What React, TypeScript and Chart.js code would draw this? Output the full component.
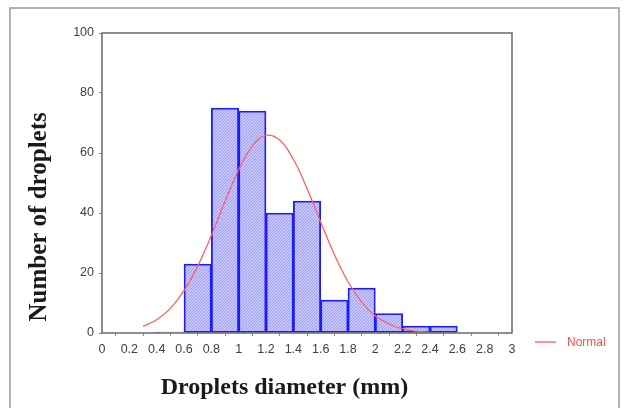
import React, { useEffect, useRef } from "react";
import { Chart, registerables } from "chart.js";

Chart.register(...registerables);

// Histogram bins (centres, mm) and counts
const binCenters = [0.5, 0.7, 0.9, 1.1, 1.3, 1.5, 1.7, 1.9, 2.1, 2.3, 2.5];
const binCounts = [0.3, 23, 75, 74, 40, 44, 11, 15, 6.5, 2.3, 2.3];

// Fitted "Normal" curve
const curveX = [0.3, 0.4, 0.5, 0.6, 0.7, 0.8, 0.9, 1.0, 1.1, 1.2, 1.3, 1.4, 1.5, 1.6, 1.7, 1.8, 1.9, 2.0, 2.1, 2.2, 2.3, 2.4];
const curveY = [2.2, 4.4, 8.2, 14.1, 22.3, 32.5, 43.8, 54.4, 62.3, 65.9, 64.3, 57.9, 48.2, 37.0, 26.2, 17.1, 10.3, 5.7, 3.0, 1.4, 0.6, 0.25];

const xTickLabels = ["0", "0.2", "0.4", "0.6", "0.8", "1", "1.2", "1.4", "1.6", "1.8", "2", "2.2", "2.4", "2.6", "2.8", "3"];
const yTickLabels = ["0", "20", "40", "60", "80", "100"];

const xTitle = "Droplets diameter (mm)";
const yTitle = "Number of droplets";
const legendLabel = "Normal";

function makeHatch(): CanvasPattern | string {
  const c = document.createElement("canvas");
  const s = 3;
  c.width = s;
  c.height = s;
  const g = c.getContext("2d");
  if (!g) return "#c0c0ff";
  g.fillStyle = "#c8c8ff";
  g.fillRect(0, 0, s, s);
  // pixel-exact diagonal "/" hatch
  g.fillStyle = "#9a9aff";
  for (let i = 0; i < s; i++) {
    g.fillRect(i, s - 1 - i, 1, 1);
  }
  const p = g.createPattern(c, "repeat");
  return p || "#c0c0ff";
}

const framePlugin = {
  id: "framePlugin",
  beforeDraw(chart: any) {
    const ctx = chart.ctx;
    ctx.save();
    ctx.fillStyle = "#ffffff";
    ctx.fillRect(0, 0, chart.width, chart.height);
    ctx.strokeStyle = "#9a9a9a";
    ctx.lineWidth = 1.5;
    ctx.strokeRect(10, 8, chart.width - 16, chart.height + 20);
    ctx.restore();
  },
  afterDraw(chart: any) {
    const ctx = chart.ctx;
    const a = chart.chartArea;
    ctx.save();
    ctx.strokeStyle = "#6a6a6a";
    ctx.lineWidth = 1.5;
    ctx.strokeRect(a.left, a.top, a.right - a.left, a.bottom - a.top);

    // axis titles
    ctx.fillStyle = "#1a1a1a";
    ctx.font = "bold 24px 'Liberation Serif', 'Times New Roman', serif";
    ctx.textAlign = "center";
    ctx.textBaseline = "middle";
    ctx.fillText(xTitle, a.left + (a.right - a.left) * 0.445, a.bottom + 55);
    ctx.save();
    ctx.font = "bold 25px 'Liberation Serif', 'Times New Roman', serif";
    ctx.translate(a.left - 62, a.top + (a.bottom - a.top) * 0.613);
    ctx.rotate(-Math.PI / 2);
    ctx.fillText(yTitle, 0, 0);
    ctx.restore();

    // legend
    const ly = a.bottom + 9;
    const lx = a.right + 23;
    ctx.strokeStyle = "#ff5a5a";
    ctx.lineWidth = 1.3;
    ctx.beginPath();
    ctx.moveTo(lx, ly);
    ctx.lineTo(lx + 21, ly);
    ctx.stroke();
    ctx.fillStyle = "#ff4a4a";
    ctx.font = "12px 'Liberation Sans', Arial, sans-serif";
    ctx.textAlign = "left";
    ctx.fillText(legendLabel, lx + 32, ly + 1);
    ctx.restore();
  },
};

export default function App() {
  const ref = useRef<HTMLCanvasElement | null>(null);

  useEffect(() => {
    if (!ref.current) return;
    const hatch = makeHatch();
    const chart = new Chart(ref.current, {
      type: "bar",
      data: {
        datasets: [
          {
            type: "line",
            label: legendLabel,
            data: curveX.map((x, i) => ({ x, y: curveY[i] })),
            borderColor: "#ff6060",
            borderWidth: 1.3,
            pointRadius: 0,
            tension: 0.4,
            fill: false,
            order: 0,
          } as any,
          {
            type: "bar",
            label: "Counts",
            data: binCenters.map((x, i) => ({ x, y: binCounts[i] })),
            backgroundColor: hatch as any,
            borderColor: "#1c1cff",
            borderWidth: 1.8,
            borderSkipped: false,
            barPercentage: 1,
            categoryPercentage: 1,
            order: 1,
          } as any,
        ],
      },
      options: {
        animation: false,
        responsive: false,
        maintainAspectRatio: false,
        layout: { padding: { left: 0, top: 33, right: 113, bottom: 0 } },
        plugins: { legend: { display: false }, tooltip: { enabled: false } },
        scales: {
          x: {
            type: "linear",
            min: 0,
            max: 3,
            offset: false,
            border: { display: false },
            grid: { display: true, drawOnChartArea: false, tickLength: 3, color: "#888" },
            ticks: {
              stepSize: 0.2,
              padding: 6,
              color: "#404040",
              font: { family: "'Liberation Sans', Arial, sans-serif", size: 12.5 },
              maxRotation: 0,
              autoSkip: false,
              callback: (_v: any, i: number) => xTickLabels[i],
            },
            afterFit: (s: any) => {
              s.height = 75;
            },
          },
          y: {
            type: "linear",
            min: 0,
            max: 100,
            border: { display: false },
            grid: { display: true, drawOnChartArea: false, tickLength: 3, color: "#888" },
            ticks: {
              stepSize: 20,
              padding: 5,
              color: "#404040",
              font: { family: "'Liberation Sans', Arial, sans-serif", size: 12.5 },
              callback: (_v: any, i: number) => yTickLabels[i],
            },
            afterFit: (s: any) => {
              s.width = 102;
            },
          },
        },
      } as any,
      plugins: [framePlugin],
    });
    return () => chart.destroy();
  }, []);

  return (
    <div style={{ position: "fixed", left: 0, top: 0, width: 625, height: 408, background: "#fff" }}>
      <canvas ref={ref} width={625} height={408} style={{ width: 625, height: 408, display: "block" }} />
    </div>
  );
}
